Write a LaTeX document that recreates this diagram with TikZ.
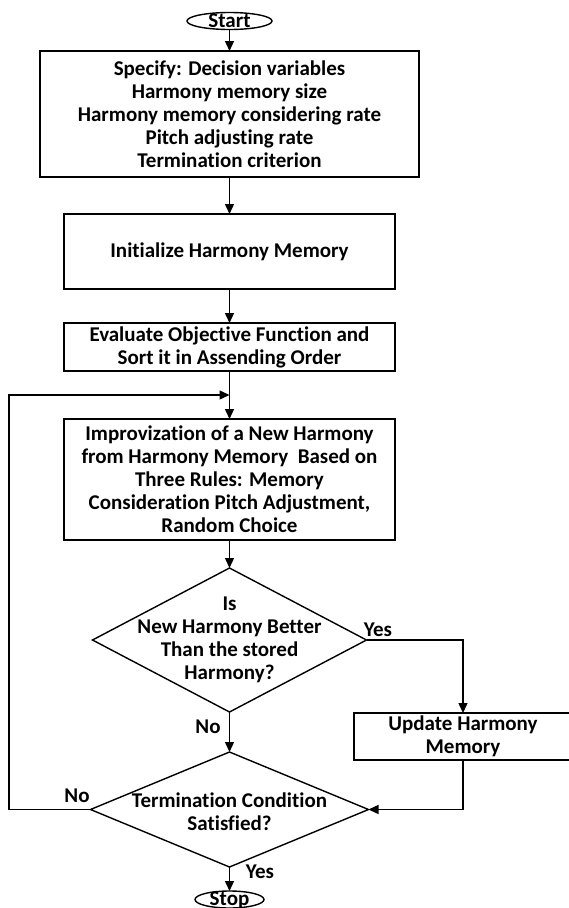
\documentclass[tikz,border=0pt]{standalone}
\usepackage{fontspec}
\setmainfont{Carlito}[Ligatures=NoCommon]
\usetikzlibrary{shapes.geometric,arrows.meta}
\begin{document}
\begin{tikzpicture}[x=1pt,y=-1pt, line width=1.4pt,
  box/.style={draw, rectangle, inner sep=0pt, outer sep=0pt, font=\fontsize{21}{23}\selectfont\bfseries, align=center},
  dia/.style={draw, diamond, inner sep=0pt, outer sep=0pt},
  term/.style={draw, ellipse, inner sep=0pt, outer sep=0pt},
  txt/.style={font=\fontsize{21}{23}\selectfont\bfseries, align=center, inner sep=0pt},
  arr/.style={-{Triangle[length=10pt,width=9pt]}},
]
\useasboundingbox (0,0) rectangle (569,908);

% terminals
\node[term, minimum width=85pt, minimum height=17pt] (start) at (229.5,21) {};
\node[txt] (starttxt) at (229.5,21) {Start};
\node[term, minimum width=69pt, minimum height=17pt] (stop) at (229.5,899.5) {};
\node[txt] (stoptxt) at (229.5,900) {Stop};

% boxes
\node[box, minimum width=379pt, minimum height=126pt] (b1) at (229.5,114)
  {Specify: Decision variables\\Harmony memory size\\Harmony memory considering rate\\Pitch adjusting rate\\Termination criterion};
\node[box, minimum width=331pt, minimum height=75pt] (b2) at (229.5,251.5)
  {Initialize Harmony Memory};
\node[box, minimum width=331pt, minimum height=48pt] (b3) at (229.5,347)
  {Evaluate Objective Function and\\Sort it in Assending Order};
\node[box, minimum width=331pt, minimum height=121pt] (b4) at (229.5,479.5)
  {Improvization of a New Harmony\\from Harmony Memory~ Based on\\Three Rules: Memory\\Consideration Pitch Adjustment,\\Random Choice};
\node[box, minimum width=218pt, minimum height=47pt] (upd) at (463,736.5)
  {Update Harmony\\Memory};

% decisions
\node[dia, minimum width=274pt, minimum height=144pt] (d1) at (229.5,640) {};
\node[txt] (d1txt) at (229.5,640) {Is\\New Harmony Better\\Than the stored\\Harmony?};
\node[dia, minimum width=278pt, minimum height=115pt] (d2) at (229.5,809.5) {};
\node[txt] (d2txt) at (229.5,812) {Termination Condition\\Satisfied?};

% labels
\node[txt] (yes1) at (378,630) {Yes};
\node[txt] (no1) at (208,727) {No};
\node[txt] (no2) at (77,796) {No};
\node[txt] (yes2) at (260,872) {Yes};

\coordinate (m) at (229.5,395);
\coordinate (lb) at (9,809.5);
\coordinate (lt) at (9,395);

% connectors
\draw[arr] (start) -- (b1);
\draw[arr] (b1) -- (b2);
\draw[arr] (b2) -- (b3);
\draw[arr] (b3) -- (b4);
\draw[arr] (b4) -- (d1.north);
\draw[arr] (d1.south) -- (d2.north);
\draw[arr] (d1.east) -| (upd.north);
\draw[arr] (upd.south) |- (d2.east);
\draw[arr] (d2.west) -- (lb) -- (lt) -- (m);
\draw[arr] (d2.south) -- (stop.north);
\end{tikzpicture}
\end{document}
